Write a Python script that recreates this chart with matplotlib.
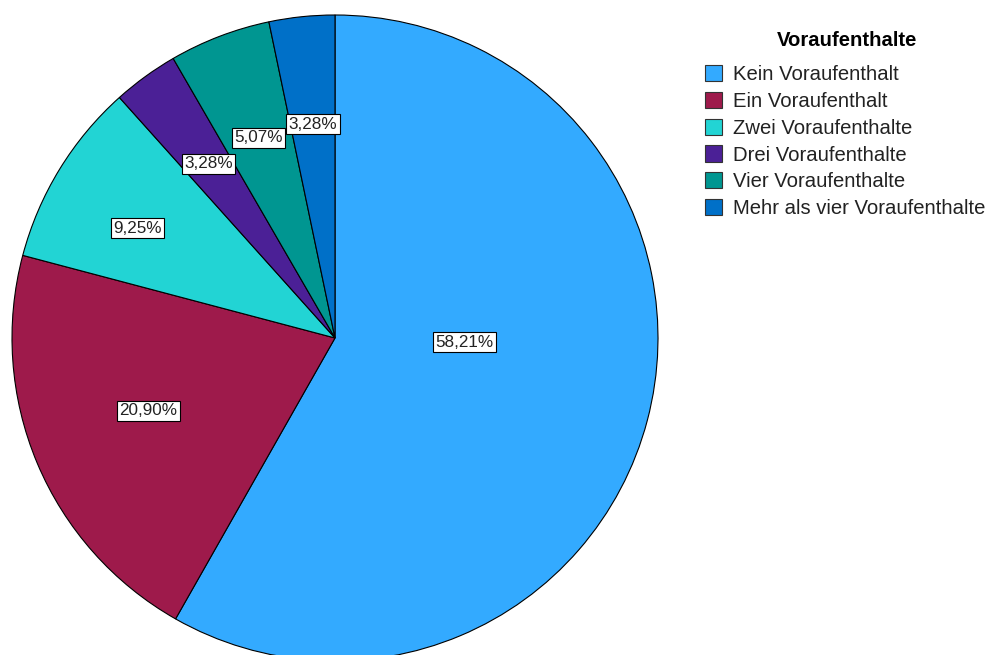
import numpy as np
import matplotlib.pyplot as plt

plt.rcParams['font.family'] = ['Liberation Sans', 'DejaVu Sans']

categories = ["Kein Voraufenthalt", "Ein Voraufenthalt", "Zwei Voraufenthalte",
              "Drei Voraufenthalte", "Vier Voraufenthalte", "Mehr als vier Voraufenthalte"]
values = [58.21, 20.90, 9.25, 3.28, 5.07, 3.28]
colors = ["#33aaff", "#9e1a4b", "#22d4d4", "#4b2096", "#009691", "#0070c8"]

# label placement (radius fraction, angle shift in degrees), SPSS style
lab_r = [0.40, 0.62, 0.70, 0.667, 0.663, 0.665]
lab_turn = [13.0, -1.5, 2.4, 0.0, 0.0, 0.0]

fig = plt.figure(figsize=(9.87, 6.55), dpi=100)
W, H = 987, 655
cx, cy, R = 335, 338, 323
ax = fig.add_axes([(cx - R) / W, (H - cy - R) / H, 2 * R / W, 2 * R / H])

wedges, _ = ax.pie(values, colors=colors, startangle=90, counterclock=False,
                   wedgeprops=dict(edgecolor='black', linewidth=0.8))
ax.set_xlim(-1, 1)
ax.set_ylim(-1, 1)
ax.set_aspect('equal')
ax.axis('off')

for w, v, r, t in zip(wedges, values, lab_r, lab_turn):
    ang = np.deg2rad((w.theta1 + w.theta2) / 2 + t)
    txt = ("%.2f%%" % v).replace('.', ',')
    ax.text(r * np.cos(ang), r * np.sin(ang), txt, ha='center', va='center',
            fontsize=12.3, color='#222222',
            bbox=dict(boxstyle='square,pad=0.15', fc='white', ec='black', lw=0.8))

fig.text(847 / W, (H - 40) / H, "Voraufenthalte", ha='center', va='center',
         fontsize=14.6, fontweight='bold', color='black')

leg = fig.legend(wedges, categories, loc='upper left',
                 bbox_to_anchor=(705 / W, (H - 65) / H), frameon=False,
                 fontsize=14.6, handlelength=0.85, handleheight=0.85,
                 handletextpad=0.55, labelspacing=0.38, borderaxespad=0, borderpad=0)
for h in leg.legend_handles:
    h.set_edgecolor('#333333')
    h.set_linewidth(0.8)
for t in leg.get_texts():
    t.set_color('#222222')

fig.savefig('out.png', dpi=100)
